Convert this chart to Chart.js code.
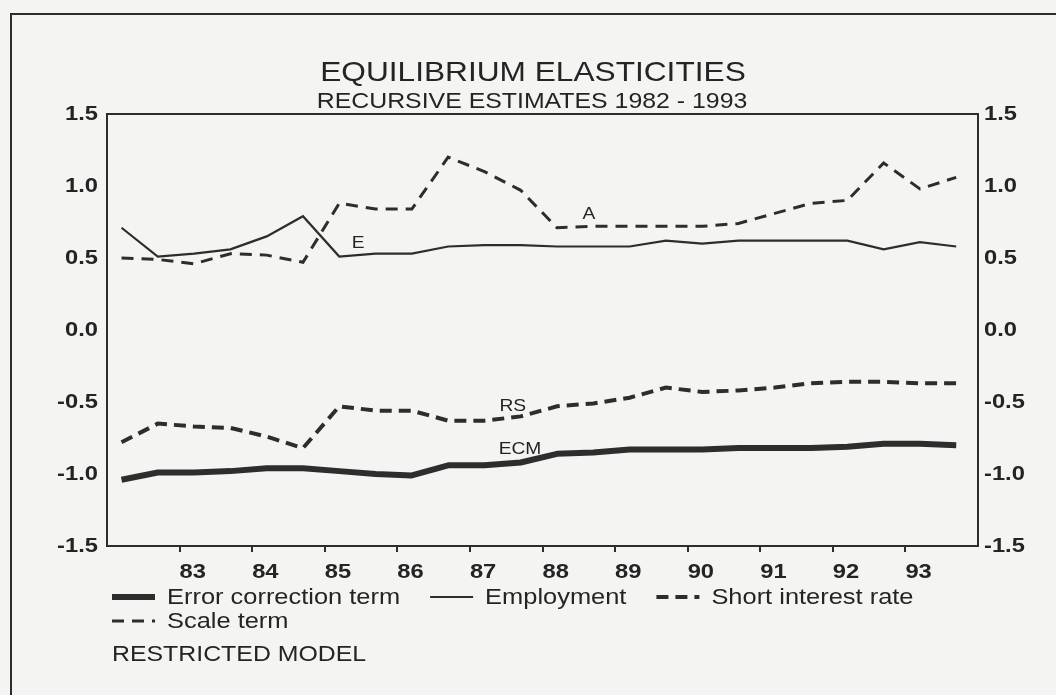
<!DOCTYPE html>
<html>
<head>
<meta charset="utf-8">
<title>Equilibrium elasticities</title>
<script src="https://cdn.jsdelivr.net/npm/chart.js@4.4.1/dist/chart.umd.min.js"></script>
<style>
  html, body { margin: 0; padding: 0; background: #f4f4f2; }
  #wrap { position: relative; width: 1056px; height: 695px; }
  canvas { display: block; }
</style>
</head>
<body>
<div id="wrap"><canvas id="chart" width="1056" height="695"></canvas></div>
<script>
// Observation dates (decimal years), one estimate per half year
const periods = [1982.2, 1982.7, 1983.2, 1983.7, 1984.2, 1984.7, 1985.2, 1985.7,
                 1986.2, 1986.7, 1987.2, 1987.7, 1988.2, 1988.7, 1989.2, 1989.7,
                 1990.2, 1990.7, 1991.2, 1991.7, 1992.2, 1992.7, 1993.2, 1993.7];

// Recursive estimates of the equilibrium elasticities
const errorCorrection = [-1.04, -0.99, -0.99, -0.98, -0.96, -0.96, -0.98, -1.00,
                         -1.01, -0.94, -0.94, -0.92, -0.86, -0.85, -0.83, -0.83,
                         -0.83, -0.82, -0.82, -0.82, -0.81, -0.79, -0.79, -0.80];
const employment = [0.71, 0.51, 0.53, 0.56, 0.65, 0.79, 0.51, 0.53,
                    0.53, 0.58, 0.59, 0.59, 0.58, 0.58, 0.58, 0.62,
                    0.60, 0.62, 0.62, 0.62, 0.62, 0.56, 0.61, 0.58];
const shortRate = [-0.78, -0.65, -0.67, -0.68, -0.74, -0.82, -0.53, -0.56,
                   -0.56, -0.63, -0.63, -0.60, -0.53, -0.51, -0.47, -0.40,
                   -0.43, -0.42, -0.40, -0.37, -0.36, -0.36, -0.37, -0.37];
const scaleTerm = [0.50, 0.49, 0.46, 0.53, 0.52, 0.47, 0.88, 0.84,
                   0.84, 1.20, 1.10, 0.97, 0.71, 0.72, 0.72, 0.72,
                   0.72, 0.74, 0.81, 0.88, 0.90, 1.16, 0.98, 1.06];

const seriesNames = ['Error correction term', 'Employment', 'Short interest rate', 'Scale term'];

// Year ticks on the time axis
const tickYears = [1983, 1984, 1985, 1986, 1987, 1988, 1989, 1990, 1991, 1992, 1993];
const tickLabels = ['83', '84', '85', '86', '87', '88', '89', '90', '91', '92', '93'];

// Short tags written next to the curves
const tagTexts = ['ECM', 'E', 'RS', 'A'];
const tagYears = [1987.69, 1985.46, 1987.59, 1988.64];
const tagValues = [-0.83, 0.60, -0.53, 0.80];

const INK = '#2d2d2d';
const TEXT = '#242424';
const FAMILY = '"Liberation Sans", Arial, Helvetica, sans-serif';
const TEXT_STRETCH = 1.13;

const canvas = document.getElementById('chart');
const ctx = canvas.getContext('2d');

// All lettering on this sheet uses a slightly extended face: widen every glyph run about its anchor.
const plainFillText = ctx.fillText.bind(ctx);
ctx.fillText = function (text, x, y, maxWidth) {
  this.save();
  this.translate(x, y);
  this.scale(TEXT_STRETCH, 1);
  if (maxWidth === undefined) plainFillText(text, 0, 0);
  else plainFillText(text, 0, 0, maxWidth / TEXT_STRETCH);
  this.restore();
};

const toPoints = values => periods.map((p, i) => ({ x: p, y: values[i] }));

// Sheet frame, headings, key and curve tags
const decorations = {
  id: 'decorations',
  beforeDraw(chart) {
    const c = chart.ctx;
    c.save();
    c.strokeStyle = INK;
    c.lineWidth = 2;
    c.beginPath();
    c.moveTo(11, 695);
    c.lineTo(11, 14);
    c.lineTo(1056, 14);
    c.stroke();
    c.restore();
  },
  afterDraw(chart) {
    const c = chart.ctx;
    c.save();
    c.fillStyle = TEXT;
    c.textBaseline = 'alphabetic';
    c.textAlign = 'center';
    c.font = '28px ' + FAMILY;
    c.fillText('EQUILIBRIUM ELASTICITIES', 533, 81);
    c.font = '22px ' + FAMILY;
    c.fillText('RECURSIVE ESTIMATES 1982 - 1993', 532, 108);

    // key
    const ds = chart.data.datasets;
    const rows = [[0, 1, 2], [3]];
    const rowY = [597, 621];
    c.font = '22.5px ' + FAMILY;
    rows.forEach((row, r) => {
      let x = 112;
      row.forEach(idx => {
        const d = ds[idx];
        c.save();
        c.strokeStyle = INK;
        c.lineWidth = d.borderWidth;
        c.setLineDash(d.borderDash || []);
        c.beginPath();
        c.moveTo(x, rowY[r]);
        c.lineTo(x + 43, rowY[r]);
        c.stroke();
        c.restore();
        x += 43 + 12;
        c.textAlign = 'left';
        c.textBaseline = 'middle';
        c.fillText(d.label, x, rowY[r] + 1);
        x += c.measureText(d.label).width * TEXT_STRETCH + 30;
      });
    });

    c.textAlign = 'left';
    c.textBaseline = 'alphabetic';
    c.font = '22px ' + FAMILY;
    c.fillText('RESTRICTED MODEL', 112, 661);

    // curve tags, placed in data coordinates
    const xs = chart.scales.x, ys = chart.scales.y;
    c.font = '17px ' + FAMILY;
    c.textAlign = 'center';
    c.textBaseline = 'middle';
    tagTexts.forEach((t, i) => {
      c.fillText(t, xs.getPixelForValue(tagYears[i]), ys.getPixelForValue(tagValues[i]));
    });
    c.restore();
  }
};

const tickFont = { family: FAMILY, size: 21, weight: 'bold' };
const valueAxis = (position, width, pad) => ({
  type: 'linear',
  position,
  min: -1.5,
  max: 1.5,
  ticks: {
    stepSize: 0.5,
    padding: pad,
    color: TEXT,
    font: tickFont,
    callback: v => v.toFixed(1)
  },
  grid: { display: false, drawTicks: false },
  border: { display: true, color: INK, width: 2 },
  afterFit: s => { s.width = width; }
});

new Chart(ctx, {
  type: 'line',
  data: {
    datasets: [
      { label: seriesNames[0], data: toPoints(errorCorrection), borderColor: INK,
        borderWidth: 6, borderJoinStyle: 'round', borderCapStyle: 'butt' },
      { label: seriesNames[1], data: toPoints(employment), borderColor: INK,
        borderWidth: 2.2 },
      { label: seriesNames[2], data: toPoints(shortRate), borderColor: INK,
        borderWidth: 4, borderDash: [12, 7] },
      { label: seriesNames[3], data: toPoints(scaleTerm), borderColor: INK,
        borderWidth: 3, borderDash: [12, 8] }
    ]
  },
  options: {
    responsive: false,
    animation: false,
    devicePixelRatio: 1,
    layout: { padding: { top: 114, left: 0, right: 0, bottom: 0 } },
    elements: { point: { radius: 0 }, line: { tension: 0, fill: false } },
    plugins: {
      legend: { display: false },
      title: { display: false },
      tooltip: { enabled: false }
    },
    scales: {
      x: {
        type: 'linear',
        position: 'bottom',
        min: 1982,
        max: 1994,
        afterBuildTicks: s => { s.ticks = tickYears.map(v => ({ value: v })); },
        ticks: {
          autoSkip: false,
          maxRotation: 0,
          align: 'start',
          padding: 8,
          color: TEXT,
          font: tickFont,
          callback: (v, i) => tickLabels[i]
        },
        grid: { drawOnChartArea: false, drawTicks: true, tickLength: 6, color: INK, lineWidth: 2 },
        border: { display: true, color: INK, width: 2 },
        afterFit: s => { s.height = 149; }
      },
      xTop: {
        type: 'linear',
        position: 'top',
        min: 1982,
        max: 1994,
        ticks: { display: false },
        grid: { display: false, drawTicks: false },
        border: { display: true, color: INK, width: 2 },
        afterFit: s => { s.height = 0; }
      },
      y: valueAxis('left', 107, 9),
      yRight: valueAxis('right', 78, 6)
    }
  },
  plugins: [decorations]
});
</script>
</body>
</html>
